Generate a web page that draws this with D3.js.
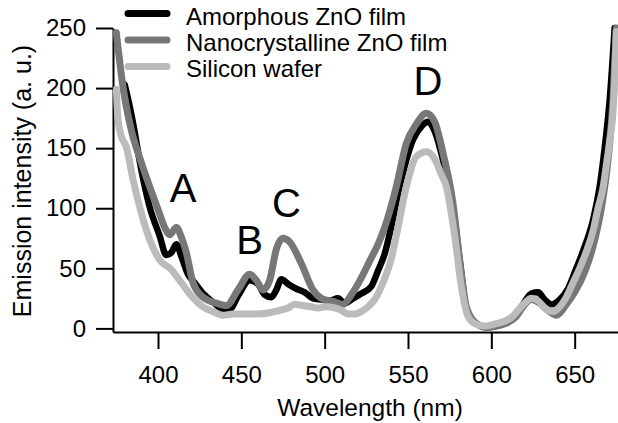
<!DOCTYPE html>
<html>
<head>
<meta charset="utf-8">
<script src="https://cdn.jsdelivr.net/npm/d3@7"></script>
<style>
  body { margin: 0; background: #fff; }
  svg { display: block; font-family: "Liberation Sans", Arial, sans-serif; }
</style>
</head>
<body>
<div id="chart"></div>
<script>
var svgWidth = 618;
var svgHeight = 423;

// series: wavelength (nm) and intensity (a. u.)
var amorphousWl = [380, 383, 385, 390, 395, 401, 405, 408, 411, 414, 418, 422, 427, 433, 439, 443, 448, 455, 460, 464, 468, 471, 474, 478, 483, 488, 493, 498, 503, 508, 512, 517, 522, 528, 532, 536, 540, 545, 553, 558, 562, 566, 571, 577, 581, 585, 591, 597, 603, 610, 615, 619, 624, 628, 632, 636, 641, 646, 651, 656, 661, 665, 668, 671, 674];
var amorphousVal = [203, 185, 171, 132, 101, 77, 61, 63, 70, 60, 45, 38, 29, 22, 16, 16, 27, 40, 37, 28, 26, 32, 41, 37, 33, 30, 25, 24, 23, 25, 21, 25, 29, 35, 48, 62, 85, 118, 157, 168, 172, 164, 140, 100, 57, 17, 4, 1, 2, 6, 12, 20, 29, 30, 24, 20, 24, 33, 50, 68, 90, 118, 150, 190, 250];

var nanoWl = [375, 379, 384, 390, 395, 400, 404, 407, 411, 414, 417, 421, 427, 435, 441, 448, 455, 459, 463, 467, 471, 475, 479, 486, 493, 498, 506, 511, 516, 522, 527, 532, 536, 543, 549, 555, 561, 566, 571, 577, 581, 585, 591, 597, 603, 610, 615, 619, 624, 629, 634, 639, 645, 650, 656, 661, 666, 670, 673, 675];
var nanoVal = [246, 201, 165, 138, 118, 99, 84, 78, 84, 76, 63, 38, 26, 21, 19, 32, 45, 40, 32, 40, 66, 75, 72, 54, 32, 25, 22, 20, 28, 42, 56, 70, 84, 118, 154, 170, 179, 172, 146, 104, 57, 18, 4, 1, 2, 5, 10, 18, 24, 21, 15, 11, 20, 30, 47, 68, 100, 140, 190, 250];

var siliconWl = [375, 376, 378, 381, 385, 390, 395, 401, 408, 414, 420, 427, 433, 439, 445, 452, 460, 467, 473, 478, 482, 487, 492, 496, 501, 506, 510, 514, 518, 522, 526, 530, 535, 540, 543, 549, 555, 561, 566, 570, 573, 578, 582, 586, 590, 596, 603, 608, 612, 616, 620, 624, 628, 632, 637, 641, 645, 649, 653, 657, 661, 664, 667, 669, 671, 673, 674, 675];
var siliconVal = [199, 174, 160, 151, 124, 96, 74, 57, 49, 38, 27, 18, 14, 11, 12, 12, 12, 13, 15, 17, 20, 19, 18, 17, 18, 17, 15, 12, 12, 14, 18, 24, 38, 58, 77, 118, 143, 147, 141, 128, 118, 77, 35, 10, 4, 2, 4, 6, 9, 15, 21, 25, 23, 17, 14, 18, 26, 38, 50, 64, 81, 100, 117, 136, 156, 180, 206, 247];

var seriesNames = ["Amorphous ZnO film", "Nanocrystalline ZnO film", "Silicon wafer"];
var seriesColors = ["#000000", "#777777", "#bbbbbb"];

var xTicks = [400, 450, 500, 550, 600, 650];
var yTicks = [0, 50, 100, 150, 200, 250];

var peakLabels = ["A", "B", "C", "D"];
var peakWl = [415, 455, 477, 562];
var peakVal = [105, 62, 93, 194];

var margin = { top: 28, right: 0, bottom: 91, left: 113 };
var width = svgWidth - margin.left - margin.right;
var height = svgHeight - margin.top - margin.bottom;

var svg = d3.select("#chart")
  .append("svg")
  .attr("width", svgWidth)
  .attr("height", svgHeight);

var chartGroup = svg.append("g")
  .attr("transform", `translate(${margin.left}, ${margin.top})`);

var xScale = d3.scaleLinear()
  .domain([373, 676])
  .range([0, width]);

var yScale = d3.scaleLinear()
  .domain([-3, 250])
  .range([height, 0]);

var bottomAxis = d3.axisBottom(xScale)
  .tickValues(xTicks)
  .tickSize(17)
  .tickSizeOuter(0)
  .tickPadding(17);

var leftAxis = d3.axisLeft(yScale)
  .tickValues(yTicks)
  .tickSize(17)
  .tickSizeOuter(0)
  .tickPadding(10);

var xAxisG = chartGroup.append("g")
  .attr("transform", `translate(0, ${height})`)
  .call(bottomAxis);

var yAxisG = chartGroup.append("g")
  .call(leftAxis);

[xAxisG, yAxisG].forEach(function(g) {
  g.selectAll("path, line")
    .attr("stroke", "#000")
    .attr("stroke-width", 2);
  g.selectAll("text")
    .attr("font-size", "24px")
    .attr("font-family", "Liberation Sans, Arial, sans-serif")
    .attr("fill", "#000");
});

// curves: black first, then mid gray, light gray on top
var series = [
  { wl: amorphousWl, val: amorphousVal, color: seriesColors[0], w: 6.5 },
  { wl: nanoWl, val: nanoVal, color: seriesColors[1], w: 7 },
  { wl: siliconWl, val: siliconVal, color: seriesColors[2], w: 7 }
];

var line = d3.line()
  .x(d => xScale(d[0]))
  .y(d => yScale(d[1]))
  .curve(d3.curveMonotoneX);

series.forEach(function(s) {
  var pts = s.wl.map((w, i) => [w, s.val[i]]);
  chartGroup.append("path")
    .datum(pts)
    .attr("fill", "none")
    .attr("stroke", s.color)
    .attr("stroke-width", s.w)
    .attr("stroke-linejoin", "round")
    .attr("stroke-linecap", "round")
    .attr("d", line);
});

// peak letters
peakLabels.forEach(function(t, i) {
  chartGroup.append("text")
    .attr("x", xScale(peakWl[i]))
    .attr("y", yScale(peakVal[i]))
    .attr("text-anchor", "middle")
    .attr("font-size", "40px")
    .text(t);
});

// legend
var legend = svg.append("g");
seriesNames.forEach(function(name, i) {
  var y = 13.5 + i * 26.5;
  legend.append("line")
    .attr("x1", 128).attr("x2", 167)
    .attr("y1", y).attr("y2", y)
    .attr("stroke", seriesColors[i])
    .attr("stroke-width", 7)
    .attr("stroke-linecap", "round");
  legend.append("text")
    .attr("x", 186)
    .attr("y", 25 + i * 26.2)
    .attr("font-size", "24px")
    .text(name);
});

// axis titles
svg.append("text")
  .attr("x", 370)
  .attr("y", 416)
  .attr("text-anchor", "middle")
  .attr("font-size", "24.5px")
  .text("Wavelength (nm)");

svg.append("text")
  .attr("transform", "rotate(-90)")
  .attr("x", -181)
  .attr("y", 31)
  .attr("text-anchor", "middle")
  .attr("font-size", "25px")
  .text("Emission intensity (a. u.)");
</script>
</body>
</html>
